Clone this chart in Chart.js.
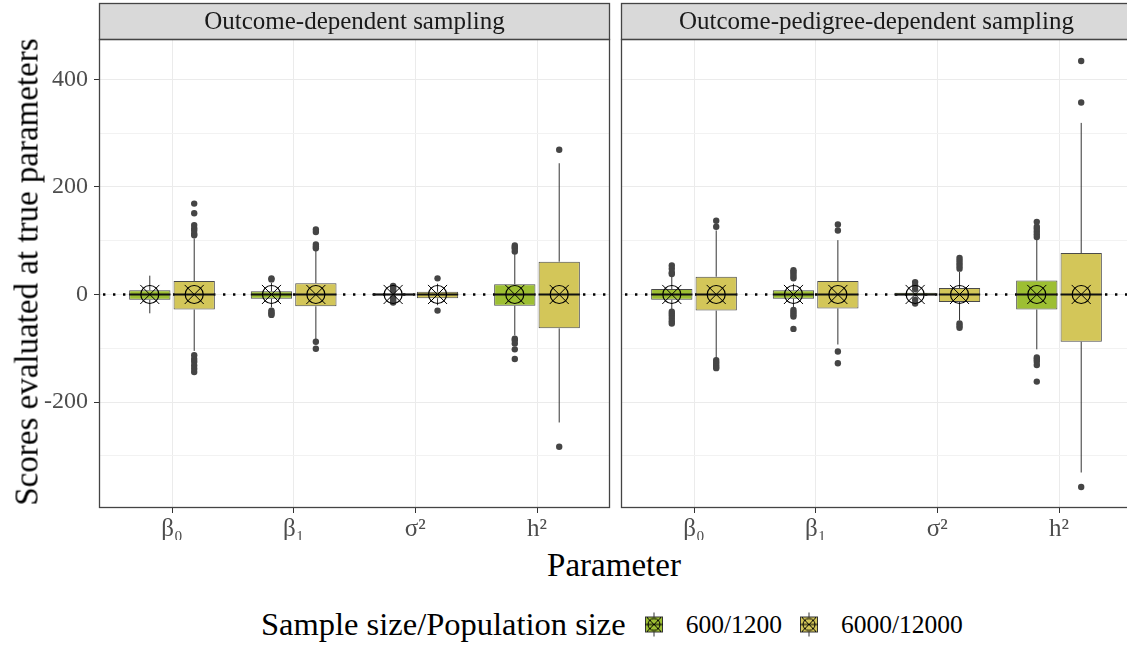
<!DOCTYPE html>
<html>
<head>
<meta charset="utf-8">
<script src="https://cdn.jsdelivr.net/npm/chart.js@4.4.0/dist/chart.umd.min.js"></script>
<style>
  body { margin: 0; width: 1127px; height: 646px; overflow: hidden; background: #fff; position: relative; font-family: "Liberation Serif", serif; }
  #left { position: absolute; left: 0; top: 0; }
  #right { position: absolute; left: 616px; top: 0; }
  .ytitle { position: absolute; left: 27px; top: 272px; transform: translate(-50%, -50%) rotate(-90deg); font-size: 33px; white-space: nowrap; color: #000; }
  .xtitle { position: absolute; left: 614px; top: 565px; transform: translate(-50%, -50%); font-size: 33px; color: #000; }
  .legend { position: absolute; left: 261px; top: 624px; transform: translateY(-50%); display: flex; align-items: center; white-space: nowrap; }
  .legend .ttl { font-size: 32.5px; margin-right: 18px; }
  .legend .lab { font-size: 25.5px; margin: 0 17px 0 22px; }
</style>
</head>
<body>
<canvas id="left" width="615" height="540"></canvas>
<canvas id="right" width="521" height="540"></canvas>
<div class="ytitle">Scores evaluated at true parameters</div>
<div class="xtitle">Parameter</div>
<div class="legend" id="legend"></div>
<script>
// categories / groups
const params = ['β₀', 'β₁', 'σ²', 'h²'];
const groups = ['600/1200', '6000/12000'];
const facets = ['Outcome-dependent sampling', 'Outcome-pedigree-dependent sampling'];
const yTicks = [-300, -200, -100, 0, 100, 200, 300, 400];
const colors = ['#9DBF33', '#D3C659'];

// Outcome-dependent sampling, 600/1200
const odsSmallLow = [-35, -24, -4, -76];
const odsSmallQ1 = [-10, -8, -2, -21];
const odsSmallMed = [0, 0, 0, 0];
const odsSmallQ3 = [8, 6, 2, 19];
const odsSmallHigh = [35, 22, 4, 75];
const odsSmallMean = [0, 0, 0, 0];
const odsSmallOut = [[], [28, 30, -30, -33, -36, -38], [8, 11, 14, 16, -7, -10, -13, -15], [91, 88, 85, 80, -82, -85, -91, -102, -120]];

// Outcome-dependent sampling, 6000/12000
const odsLargeLow = [-105, -85, -20, -238];
const odsLargeQ1 = [-28, -22, -7, -63];
const odsLargeMed = [0, 0, 0, 0];
const odsLargeQ3 = [25, 21, 5, 61];
const odsLargeHigh = [104, 82, 20, 244];
const odsLargeMean = [0, 0, 0, 0];
const odsLargeOut = [[110, 113, 119, 123, 129, 151, 169, -113, -120, -125, -132, -138, -144], [86, 89, 93, 116, 121, -88, -101], [30, -30], [269, -283]];

// Outcome-pedigree-dependent sampling, 600/1200
const opdsSmallLow = [-28, -24, -4, -102];
const opdsSmallQ1 = [-10, -8, -2, -28];
const opdsSmallMed = [0, 0, 0, 0];
const opdsSmallQ3 = [10, 8, 3, 26];
const opdsSmallHigh = [33, 20, 4, 104];
const opdsSmallMean = [0, 0, 0, 0];
const opdsSmallOut = [[38, 41, 48, 54, -32, -36, -40, -45, -50, -54], [30, 34, 38, 42, 45, -29, -33, -37, -41, -64], [10, 17, 23, -10, -17], [107, 112, 117, 122, 126, 135, -117, -121, -125, -131, -162]];

// Outcome-pedigree-dependent sampling, 6000/12000
const opdsLargeLow = [-120, -93, -48, -331];
const opdsLargeQ1 = [-30, -26, -14, -88];
const opdsLargeMed = [0, 0, 0, 0];
const opdsLargeQ3 = [33, 25, 12, 77];
const opdsLargeHigh = [119, 101, 42, 319];
const opdsLargeMean = [0, 0, 0, 0];
const opdsLargeOut = [[126, 137, -122, -126, -130, -134, -137], [119, 130, -106, -128], [48, 53, 58, 63, 68, -54, -58, -62], [357, 434, -358]];

const FONT = 'Liberation Serif';
const catPct = 0.73;

function series(low, q1, med, q3, high, mean, out) {
    return { low: low, q1: q1, med: med, q3: q3, high: high, mean: mean, out: out };
}

const panelPlugin = {
    id: 'panel',
    beforeDatasetsDraw(chart) {
        const ctx = chart.ctx, a = chart.chartArea;
        const y0 = chart.scales.y.getPixelForValue(0);
        ctx.save();
        ctx.beginPath();
        ctx.rect(a.left, a.top, a.right - a.left, a.bottom - a.top);
        ctx.clip();
        ctx.strokeStyle = '#000';
        ctx.lineWidth = 2.4;
        ctx.setLineDash([2.4, 7.6]);
        ctx.beginPath();
        ctx.moveTo(a.left + 4, y0);
        ctx.lineTo(a.right, y0);
        ctx.stroke();
        ctx.restore();
    },
    afterDatasetDraw(chart, args) {
        if (args.meta.type !== 'bar') return;
        const ds = chart.data.datasets[args.index];
        const y = chart.scales.y, ctx = chart.ctx;
        ctx.save();
        args.meta.data.forEach(function(el, j) {
            const half = el.width / 2;
            // whiskers
            ctx.strokeStyle = '#333';
            ctx.lineWidth = 1;
            ctx.beginPath();
            ctx.moveTo(el.x, y.getPixelForValue(ds.stats.q3[j]));
            ctx.lineTo(el.x, y.getPixelForValue(ds.stats.high[j]));
            ctx.moveTo(el.x, y.getPixelForValue(ds.stats.q1[j]));
            ctx.lineTo(el.x, y.getPixelForValue(ds.stats.low[j]));
            ctx.stroke();
            // median
            ctx.strokeStyle = '#111';
            ctx.lineWidth = 2;
            ctx.beginPath();
            const ym = y.getPixelForValue(ds.stats.med[j]);
            ctx.moveTo(el.x - half, ym);
            ctx.lineTo(el.x + half, ym);
            ctx.stroke();
        });
        ctx.restore();
    },
    afterDraw(chart, args, opts) {
        const ctx = chart.ctx, a = chart.chartArea;
        ctx.save();
        // strip
        ctx.fillStyle = '#D9D9D9';
        ctx.fillRect(a.left, a.top - 36, a.right - a.left, 36);
        ctx.strokeStyle = '#444';
        ctx.lineWidth = 1.3;
        ctx.strokeRect(a.left + 0.5, a.top - 36 + 0.5, a.right - a.left - 1, 36);
        ctx.fillStyle = '#1A1A1A';
        ctx.font = '25px "' + FONT + '"';
        ctx.textAlign = 'center';
        ctx.textBaseline = 'middle';
        ctx.fillText(opts.title, (a.left + a.right) / 2, a.top - 17);
        // panel border
        ctx.strokeRect(a.left + 0.5, a.top + 0.5, a.right - a.left - 1, a.bottom - a.top - 1);
        ctx.restore();
    }
};

function makeChart(id, title, small, large, showY) {
    const sets = [small, large];
    const datasets = [];
    sets.forEach(function(s, g) {
        datasets.push({
            type: 'bar',
            label: groups[g],
            data: params.map((p, i) => ({ x: i + 1, y: [s.q1[i], s.q3[i]] })),
            stats: s,
            backgroundColor: colors[g],
            borderColor: '#4A4A4A',
            borderWidth: 1,
            borderSkipped: false,
            categoryPercentage: catPct,
            barPercentage: 0.93,
            order: 5
        });
    });
    sets.forEach(function(s, g) {
        const off = (g === 0 ? -1 : 1) * catPct / 4;
        const pts = [];
        s.out.forEach(function(vals, i) {
            vals.forEach(v => pts.push({ x: i + 1 + off, y: v }));
        });
        datasets.push({
            type: 'scatter',
            label: groups[g] + ' outliers',
            data: pts,
            pointStyle: 'circle',
            pointRadius: 3.2,
            backgroundColor: '#454545',
            borderWidth: 0,
            order: 3
        });
        const means = s.mean.map((v, i) => ({ x: i + 1 + off, y: v }));
        datasets.push({
            type: 'scatter', label: groups[g] + ' mean', data: means,
            pointStyle: 'circle', pointRadius: 9, backgroundColor: 'rgba(0,0,0,0)',
            borderColor: '#000', borderWidth: 1.2, order: 1
        });
        datasets.push({
            type: 'scatter', label: groups[g] + ' mean x', data: means,
            pointStyle: 'crossRot', pointRadius: 13.5,
            borderColor: '#000', borderWidth: 1, order: 1
        });
    });

    return new Chart(document.getElementById(id), {
        type: 'bar',
        data: { datasets: datasets },
        plugins: [panelPlugin],
        options: {
            responsive: false,
            animation: false,
            events: [],
            layout: { autoPadding: false, padding: { top: 39, right: 5, left: showY ? 0 : 5, bottom: 0 } },
            plugins: {
                legend: { display: false },
                tooltip: { enabled: false },
                panel: { title: title }
            },
            scales: {
                x: {
                    type: 'linear',
                    min: 0.4,
                    max: 4.6,
                    offset: false,
                    afterBuildTicks: s => { s.ticks = params.map((p, i) => ({ value: i + 1 })); },
                    afterFit: s => { s.height = 32; s.paddingLeft = 0; s.paddingRight = 0; },
                    ticks: {
                        callback: v => params[v - 1],
                        font: { family: FONT, size: 25 },
                        color: '#4D4D4D',
                        padding: 1,
                        maxRotation: 0,
                        autoSkip: false
                    },
                    grid: { color: '#EBEBEB', tickColor: '#333', tickLength: 5, offset: false },
                    border: { display: false }
                },
                y: {
                    type: 'linear',
                    min: -397,
                    max: 475,
                    afterBuildTicks: s => { s.ticks = yTicks.map(v => ({ value: v })); },
                    afterFit: s => { s.width = showY ? 99 : 0; s.paddingTop = 0; s.paddingBottom = 0; },
                    ticks: {
                        display: showY,
                        callback: v => (v % 200 === 0 ? String(v) : ''),
                        font: { family: FONT, size: 24 },
                        color: '#4D4D4D',
                        padding: 6
                    },
                    grid: {
                        color: c => (c.tick && c.tick.value % 200 === 0 ? '#EBEBEB' : '#F2F2F2'),
                        tickColor: c => (c.tick && c.tick.value % 200 === 0 ? '#333' : 'rgba(0,0,0,0)'),
                        tickLength: 5,
                        drawTicks: showY
                    },
                    border: { display: false }
                }
            }
        }
    });
}

makeChart('left', facets[0],
    series(odsSmallLow, odsSmallQ1, odsSmallMed, odsSmallQ3, odsSmallHigh, odsSmallMean, odsSmallOut),
    series(odsLargeLow, odsLargeQ1, odsLargeMed, odsLargeQ3, odsLargeHigh, odsLargeMean, odsLargeOut), true);
makeChart('right', facets[1],
    series(opdsSmallLow, opdsSmallQ1, opdsSmallMed, opdsSmallQ3, opdsSmallHigh, opdsSmallMean, opdsSmallOut),
    series(opdsLargeLow, opdsLargeQ1, opdsLargeMed, opdsLargeQ3, opdsLargeHigh, opdsLargeMean, opdsLargeOut), false);

// legend
function legendKey(color) {
    const c = document.createElement('canvas');
    c.width = 20; c.height = 24;
    const g = c.getContext('2d');
    g.strokeStyle = '#333'; g.lineWidth = 1;
    g.beginPath(); g.moveTo(10, 0); g.lineTo(10, 24); g.stroke();
    g.fillStyle = color; g.fillRect(1.5, 4.5, 17, 15);
    g.strokeRect(1.5, 4.5, 17, 15);
    g.strokeStyle = '#000';
    g.beginPath(); g.moveTo(1, 12); g.lineTo(19, 12); g.stroke();
    g.beginPath(); g.arc(10, 12, 6, 0, Math.PI * 2); g.stroke();
    g.beginPath(); g.moveTo(3, 5); g.lineTo(17, 19); g.moveTo(17, 5); g.lineTo(3, 19); g.stroke();
    return c;
}
const leg = document.getElementById('legend');
const ttl = document.createElement('span');
ttl.className = 'ttl';
ttl.textContent = 'Sample size/Population size';
leg.appendChild(ttl);
groups.forEach(function(gname, g) {
    leg.appendChild(legendKey(colors[g]));
    const s = document.createElement('span');
    s.className = 'lab';
    s.textContent = gname;
    leg.appendChild(s);
});
</script>
</body>
</html>
